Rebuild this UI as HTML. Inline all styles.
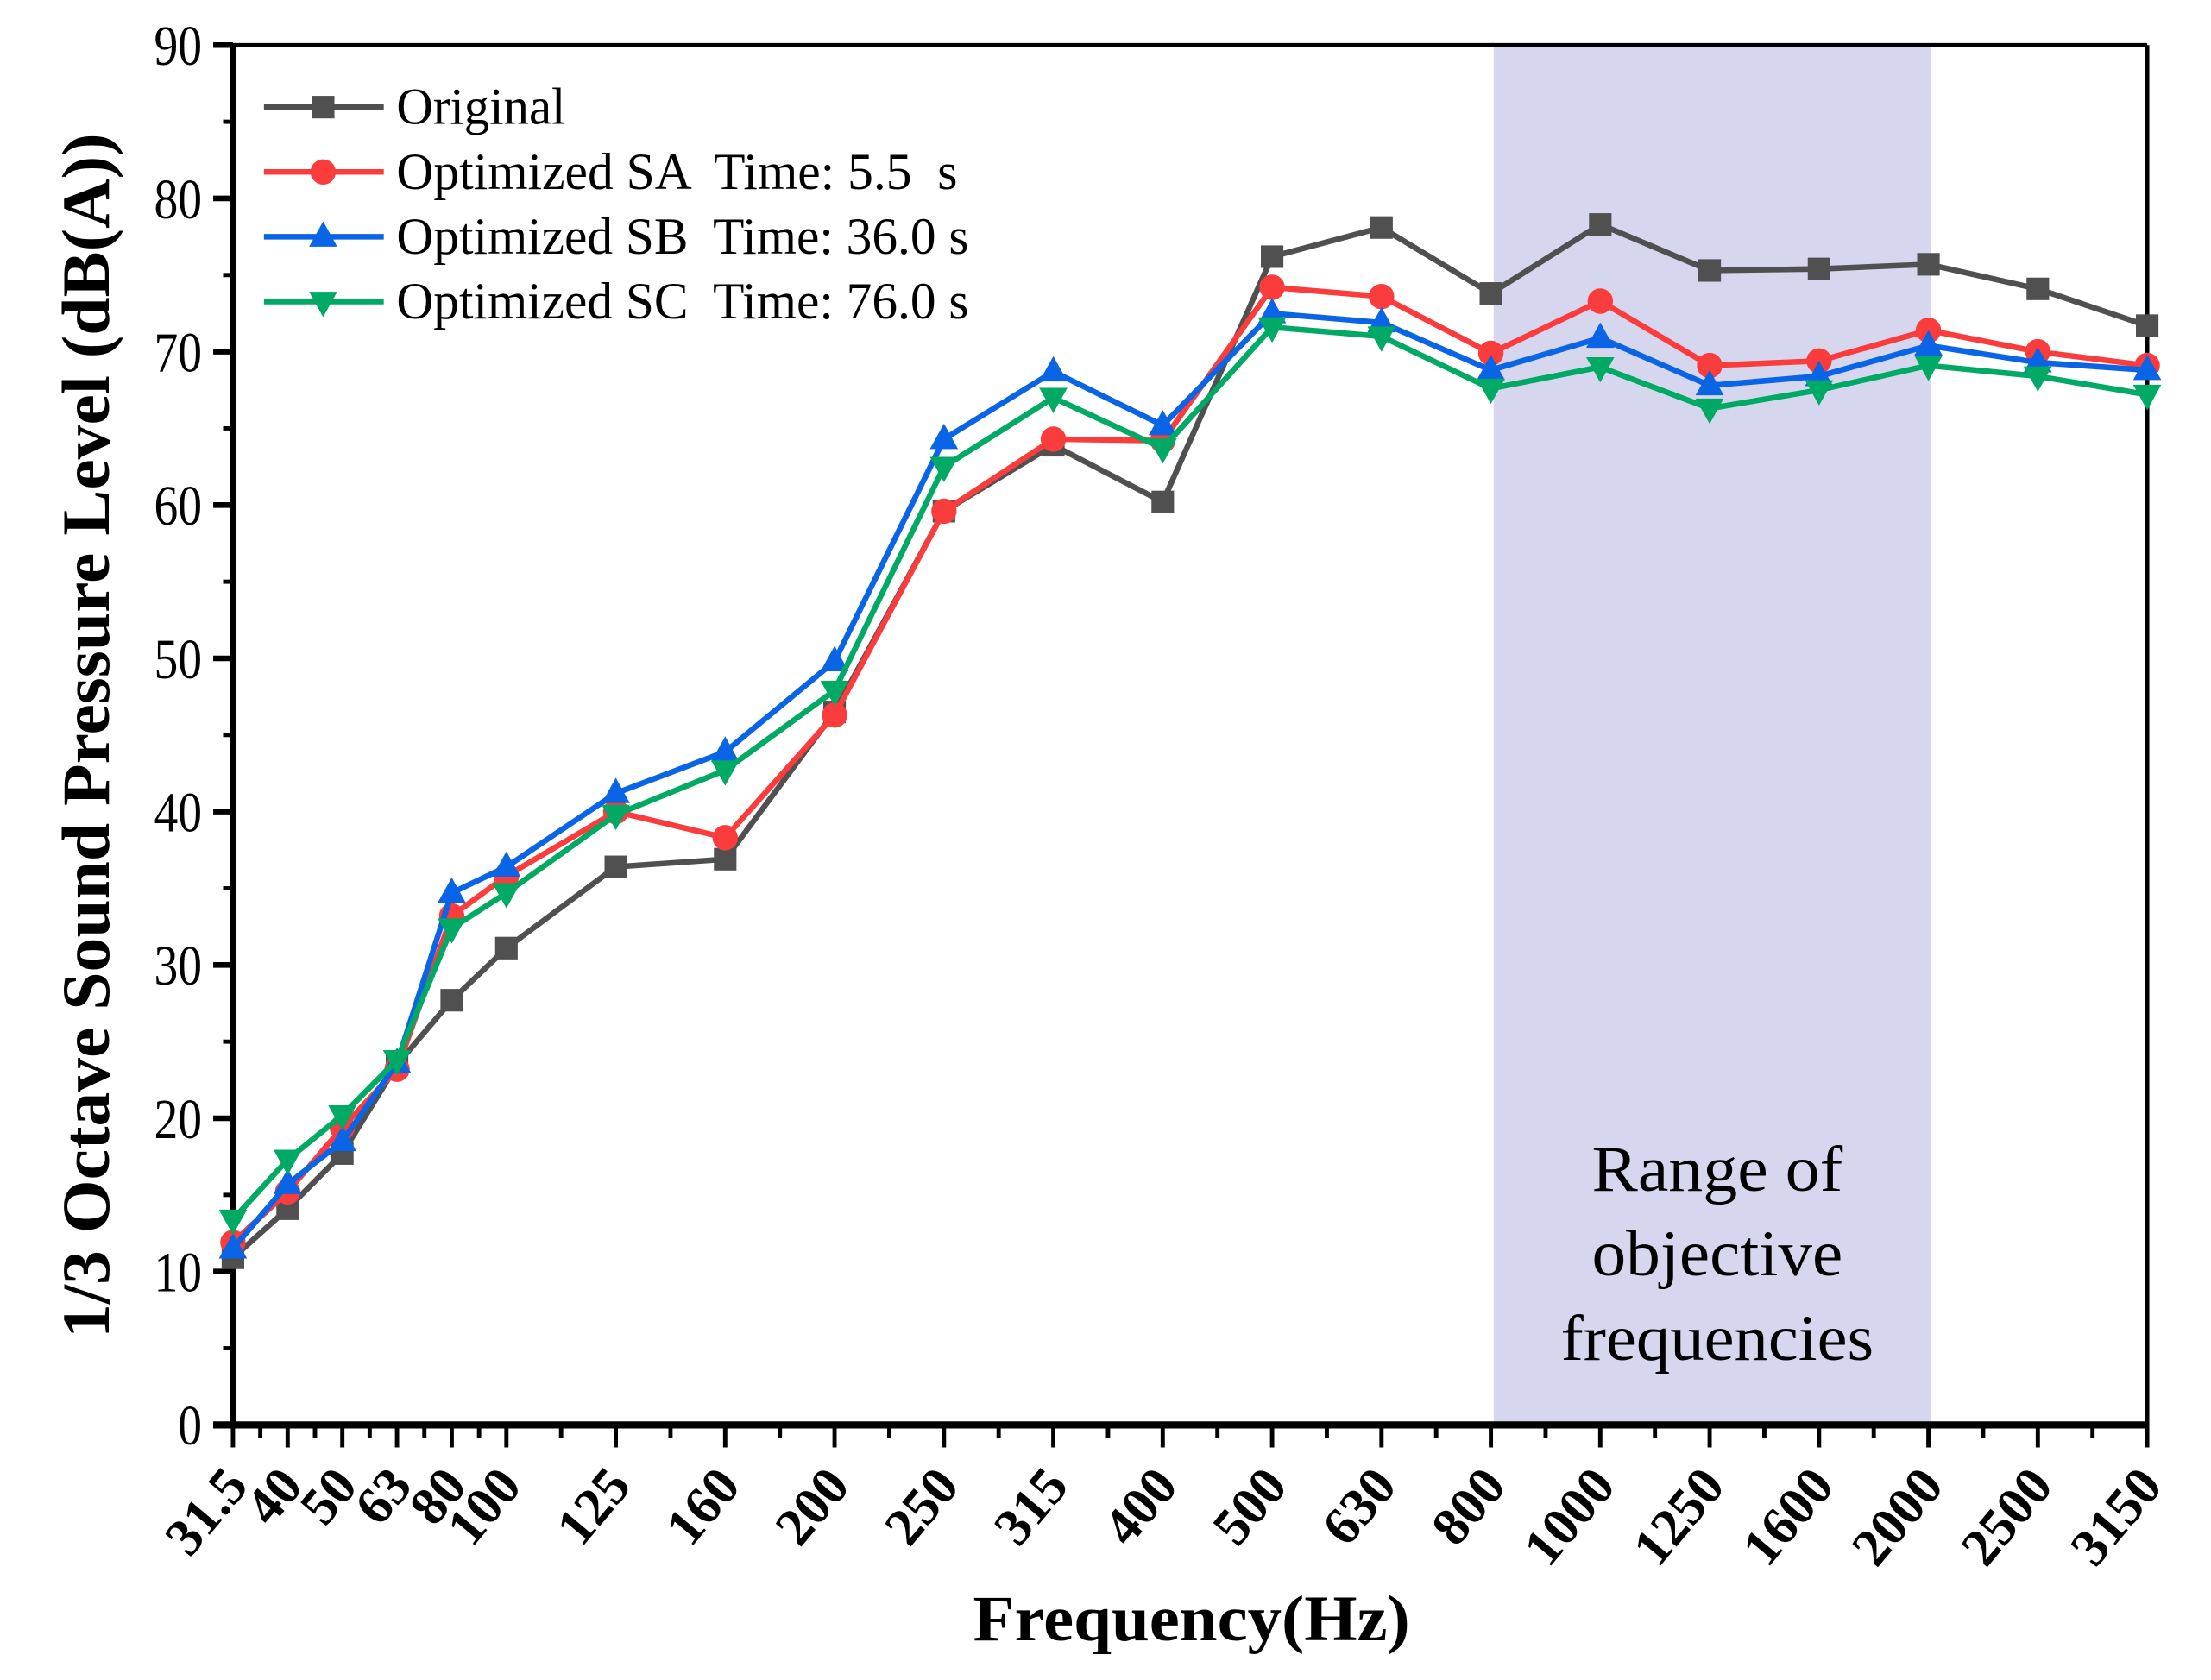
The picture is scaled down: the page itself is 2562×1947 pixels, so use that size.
<!DOCTYPE html>
<html><head><meta charset="utf-8"><style>
html,body{margin:0;padding:0;background:#fff;}
svg{display:block;}
text{font-family:"Liberation Serif",serif;}
</style></head><body>
<svg id="chart" width="2562" height="1947" viewBox="0 0 1568 1192" xmlns="http://www.w3.org/2000/svg">
<rect x="0" y="0" width="1568" height="1192" fill="#fff"/>
<g id="plot"></g>
</svg>
<script>
const categories=["31.5","40","50","63","80","100","125","160","200","250","315","400","500","630","800","1000","1250","1600","2000","2500","3150"];
const original=[10.9,14.1,17.7,23.5,27.7,31.1,36.4,36.9,46.5,59.6,63.9,60.2,76.2,78.1,73.8,78.3,75.3,75.4,75.7,74.1,71.7];
const optSA=[11.9,15.2,19.4,23.2,33.2,35.8,40.0,38.3,46.3,59.6,64.3,64.2,74.2,73.6,69.9,73.3,69.1,69.4,71.4,70.0,69.1];
const optSB=[11.5,15.7,18.5,23.6,34.7,36.4,41.2,43.9,49.8,64.3,68.7,65.2,72.5,71.9,68.8,70.9,67.8,68.4,70.4,69.3,68.8];
const optSC=[13.4,17.3,20.2,23.8,32.4,34.7,39.8,42.7,47.9,62.5,67.0,63.7,71.6,71.0,67.6,69.0,66.3,67.5,69.1,68.4,67.2];
const yTicks=[0,10,20,30,40,50,60,70,80,90];
const rangeStart="800", rangeEnd="2000";

const NS="http://www.w3.org/2000/svg";
const g=document.getElementById('plot');
const L=165,R=1523,T=32,B=1011;
function unitOf(i){return i<=5?i*0.5:i-2.5;}
const maxU=unitOf(categories.length-1);
function xs(i){return L+(R-L)*unitOf(i)/maxU;}
function ys(v){return B-(B-T)*v/90;}
function mk(tag,attrs,parent){const e=document.createElementNS(NS,tag);for(const k in attrs)e.setAttribute(k,attrs[k]);(parent||g).appendChild(e);return e;}

let sh=mk('rect',{x:xs(categories.indexOf(rangeStart))+2,y:T,width:xs(categories.indexOf(rangeEnd))-xs(categories.indexOf(rangeStart)),height:B-T,fill:'#d6d6ee'});


const rl=["Range of","objective","frequencies"];
const rlw=[178,178,222];
rl.forEach((s,k)=>{let t=mk('text',{x:1218,y:845+k*60,'font-size':46,'text-anchor':'middle',fill:'#000',textLength:rlw[k],lengthAdjust:'spacingAndGlyphs'});t.textContent=s;

});

let ax=mk('g',{});


mk('line',{x1:L,y1:T,x2:R,y2:T,stroke:'#000','stroke-width':3},ax);
mk('line',{x1:R,y1:T,x2:R,y2:B,stroke:'#000','stroke-width':3},ax);
mk('line',{x1:L,y1:T-1,x2:L,y2:B+2,stroke:'#000','stroke-width':4},ax);
mk('line',{x1:L-14,y1:B,x2:R,y2:B,stroke:'#000','stroke-width':5},ax);
yTicks.forEach(v=>{mk('line',{x1:L-14,y1:ys(v),x2:L,y2:ys(v),stroke:'#000','stroke-width':4},ax);
 const s=String(v);
 let t=mk('text',{x:L-22,y:ys(v)+14,'font-size':40,'text-anchor':'end',fill:'#000',textLength:s.length*17,lengthAdjust:'spacingAndGlyphs'},ax);t.textContent=s;
 
 
 if(v<90)mk('line',{x1:L-7,y1:ys(v+5),x2:L,y2:ys(v+5),stroke:'#000','stroke-width':3},ax);});
categories.forEach((c,i)=>{const x=xs(i);mk('line',{x1:x,y1:B,x2:x,y2:B+16,stroke:'#000','stroke-width':3},ax);
 if(i<categories.length-1)mk('line',{x1:(x+xs(i+1))/2,y1:B,x2:(x+xs(i+1))/2,y2:B+9,stroke:'#000','stroke-width':3},ax);
 let t=mk('text',{x:x+12,y:B+44,'font-size':38,'font-weight':'bold','text-anchor':'end',fill:'#000',transform:`rotate(-50 ${x+12} ${B+44})`},ax);t.textContent=c;
 
 });
let xt=mk('text',{x:845,y:1164,'font-size':46,'font-weight':'bold','text-anchor':'middle',textLength:310,lengthAdjust:'spacingAndGlyphs'});xt.textContent="Frequency(Hz)";


let yt=mk('text',{x:0,y:0,'font-size':48,'font-weight':'bold','text-anchor':'middle',textLength:855,lengthAdjust:'spacingAndGlyphs',transform:'translate(77 522) rotate(-90)'});yt.textContent="1/3 Octave Sound Pressure Level (dB(A))";



function marker(type,x,y,col,parent){
 if(type==='sq')return mk('rect',{x:x-8,y:y-8,width:16,height:16,fill:col},parent);
 if(type==='ci')return mk('circle',{cx:x,cy:y,r:9,fill:col},parent);
 if(type==='up')return mk('polygon',{points:`${x},${y-11} ${x+10},${y+7} ${x-10},${y+7}`,fill:col},parent);
 return mk('polygon',{points:`${x},${y+11} ${x+10},${y-7} ${x-10},${y-7}`,fill:col},parent);
}
const series=[
 {name:'original',vals:original,col:'#505050',m:'sq',label:'Original',w:120},
 {name:'optimized-sa',vals:optSA,col:'#fa3c3c',m:'ci',label:'Optimized SA  Time: 5.5  s',w:398},
 {name:'optimized-sb',vals:optSB,col:'#0a64e6',m:'up',label:'Optimized SB  Time: 36.0 s',w:406},
 {name:'optimized-sc',vals:optSC,col:'#00aa64',m:'dn',label:'Optimized SC  Time: 76.0 s',w:406}];
series.forEach((s,k)=>{
 let sg=mk('g',{});
 
 
 let p=mk('polyline',{points:s.vals.map((v,i)=>xs(i)+','+ys(v)).join(' '),fill:'none',stroke:s.col,'stroke-width':4,'stroke-linejoin':'round'},sg);
 
 
 s.vals.forEach((v,i)=>{let m=marker(s.m,xs(i),ys(v),s.col,sg);
  
  });
 const ly=76+k*46;
 let lg=mk('g',{});
 
 
 mk('line',{x1:187,y1:ly,x2:272,y2:ly,stroke:s.col,'stroke-width':4},lg);
 marker(s.m,229,ly,s.col,lg);
 let t=mk('text',{x:281,y:ly+12,'font-size':37,fill:'#000','xml:space':'preserve',textLength:s.w,lengthAdjust:'spacingAndGlyphs'},lg);t.textContent=s.label;
 t.style.whiteSpace='pre';
});
</script>
</body></html>
